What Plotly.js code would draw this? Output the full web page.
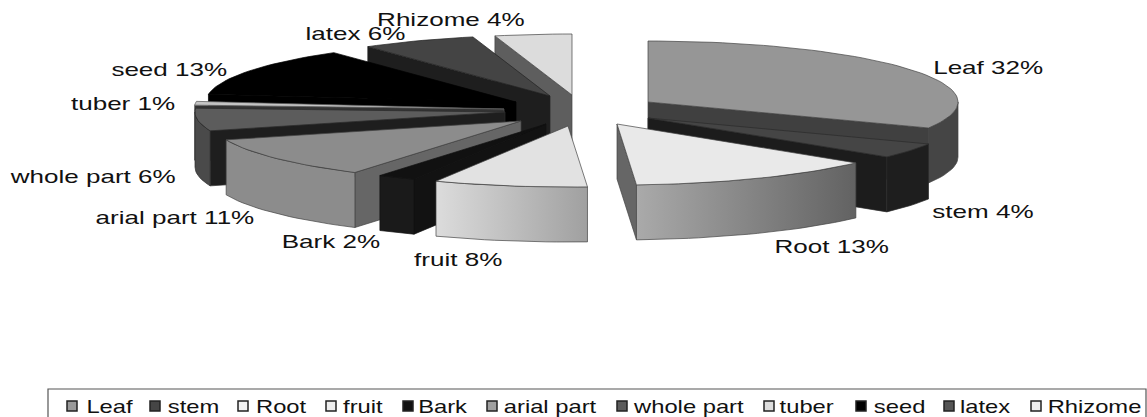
<!DOCTYPE html>
<html>
<head>
<meta charset="utf-8">
<script src="https://cdn.plot.ly/plotly-3.0.1.min.js"></script>
<style>html,body{margin:0;padding:0;background:#fff;overflow:hidden}#chart{width:1147px;height:417px}</style>
</head>
<body>
<div id="chart"></div>
<script>
// Data
const categories = ['Leaf','stem','Root','fruit','Bark','arial part','whole part','tuber','seed','latex','Rhizome'];
const shares = [32,4,13,8,2,11,6,1,13,6,4];

// Styles
const topColors    = ['#969696','#454545','#e9e9e9','#e2e2e2','#111111','#8c8c8c','#5c5c5c','#c4c4c4','#000000','#444444','#dcdcdc'];
const edgeColors   = ['#404040','#1c1c1c','#666666','#9a9a9a','#121212','#666666','#1e1e1e','#333333','#000000','#1e1e1e','#5e5e5e'];
const rimColors    = ['#454545','#1e1e1e','#888888','#c0c0c0','#1a1a1a','#8c8c8c','#4a4a4a','#888888','#000000','#333333','#999999'];
const rimGradients = {Root:['#aaaaaa','#626262'], fruit:['#dcdcdc','#a0a0a0']};
const legendColors = ['#9a9a9a','#454545','#f2f2f2','#eeeeee','#111111','#a0a0a0','#5c5c5c','#dddddd','#000000','#555555','#eeeeee'];
const outlineColors = ['#444444','#2b2b2b','#444444','#444444','#111111','#444444','#2b2b2b','#555555','#000000','#222222','#444444'];

// Exploded-pie geometry (pixels in the 1147x417 frame)
const radiusX = 310, radiusY = 61, depth = 55;
const explodedX = [648,648,617,568,546,521,505,504,516,550,572];
const explodedY = [102,118,124,126,124,121,112,109,102,96,95];
const drawOrder = [0,1,2,10,9,8,7,6,5,4,3];

// Text placement
const labelX = [987.5,983,832,458,330.5,174.5,92.5,123,169.5,355.5,451];
const labelY = [67,211,246,259,241,217,176,103,69,33,19];
const legendMarkX = [72,155,243,331,408,492,622,769,861,949,1036];
const legendTextX = [110,193.5,281.5,363,443,550.5,688,807,899,985,1094.5];
const legendY = 406;
const labelStretch = 1.37, legendStretch = 1.25;

const rad = d => d * Math.PI / 180;
const pointAt = (i, deg, drop) => [
  explodedX[i] + radiusX * Math.sin(rad(deg)),
  explodedY[i] - radiusY * Math.cos(rad(deg)) + (drop || 0)
];
function arc(i, a0, a1, drop) {
  const pts = [], n = Math.max(2, Math.ceil((a1 - a0) / 2));
  for (let k = 0; k <= n; k++) pts.push(pointAt(i, a0 + (a1 - a0) * k / n, drop));
  return pts;
}
function polygon(pts, fill, lineColor, gradient) {
  const closed = pts.concat([pts[0]]);
  const t = {
    type:'scatter', mode:'lines', fill:'toself', fillcolor:fill,
    x:closed.map(p=>p[0]), y:closed.map(p=>p[1]),
    line:{color:lineColor,width:0.7}, hoverinfo:'skip', showlegend:false
  };
  if (gradient) t.fillgradient = {type:'horizontal', colorscale:[[0,gradient[0]],[1,gradient[1]]]};
  return t;
}
function radialWallVisible(i, edgeDeg, midDeg) {
  const a = [explodedX[i], explodedY[i]], p = pointAt(i, edgeDeg), m = pointAt(i, midDeg);
  const dx = p[0]-a[0];
  if (Math.abs(dx) < 1) return false;
  return m[1] < a[1] + (p[1]-a[1]) * (m[0]-a[0]) / dx;
}

let running = 0;
const startDeg = [], endDeg = [];
shares.forEach((s,i) => { startDeg[i] = running * 3.6; running += s; endDeg[i] = running * 3.6; });

const traces = [];
drawOrder.forEach(i => {
  const a0 = startDeg[i], a1 = endDeg[i], mid = (a0+a1)/2;
  const apex = [explodedX[i], explodedY[i]];
  [a0,a1].forEach(edge => {
    if (radialWallVisible(i, edge, mid)) {
      const p = pointAt(i, edge);
      traces.push(polygon([apex, p, [p[0],p[1]+depth], [apex[0],apex[1]+depth]], edgeColors[i], outlineColors[i]));
    }
  });
  const f0 = Math.max(a0,90), f1 = Math.min(a1,270);
  if (f1 > f0) {
    const upper = arc(i,f0,f1,0), lower = arc(i,f0,f1,depth).reverse();
    traces.push(polygon(upper.concat(lower), rimColors[i], outlineColors[i], rimGradients[categories[i]]));
  }
  traces.push(polygon([apex].concat(arc(i,a0,a1,0)), topColors[i], outlineColors[i]));
});

// Legend swatches
traces.push({
  type:'scatter', mode:'markers', x:legendMarkX, y:categories.map(()=>legendY),
  text:categories, hoverinfo:'text', showlegend:false,
  marker:{symbol:'square', size:10, color:legendColors, line:{color:'#222222',width:1.5}}
});

const font = {family:'"Liberation Sans", Arial, sans-serif', size:19, color:'#111111'};
const annotations = categories.map((c,i) => ({
  x:labelX[i], y:labelY[i], xref:'x', yref:'y', text:c+' '+shares[i]+'%',
  showarrow:false, xanchor:'center', yanchor:'middle', font:font
})).concat(categories.map((c,i) => ({
  x:legendTextX[i], y:legendY, xref:'x', yref:'y', text:c,
  showarrow:false, xanchor:'center', yanchor:'middle', font:font
})));

const layout = {
  width:1147, height:417, margin:{l:0,r:0,t:0,b:0},
  paper_bgcolor:'#ffffff', plot_bgcolor:'#ffffff', showlegend:false,
  xaxis:{range:[0,1147],visible:false,fixedrange:true},
  yaxis:{range:[417,0],visible:false,fixedrange:true},
  annotations:annotations,
  shapes:[{type:'rect',xref:'x',yref:'y',x0:48,x1:1146,y0:389,y1:430,line:{color:'#555555',width:1.2},fillcolor:'rgba(0,0,0,0)'}]
};

Plotly.newPlot('chart',traces,layout,{displayModeBar:false,staticPlot:true}).then(gd => {
  // The reference's text is horizontally stretched; widen the real text glyphs.
  gd.querySelectorAll('.annotation-text').forEach((t,idx) => {
    const factor = idx < categories.length ? labelStretch : legendStretch;
    t.setAttribute('textLength', t.getComputedTextLength()*factor);
    t.setAttribute('lengthAdjust','spacingAndGlyphs');
  });
});
</script>
</body>
</html>
